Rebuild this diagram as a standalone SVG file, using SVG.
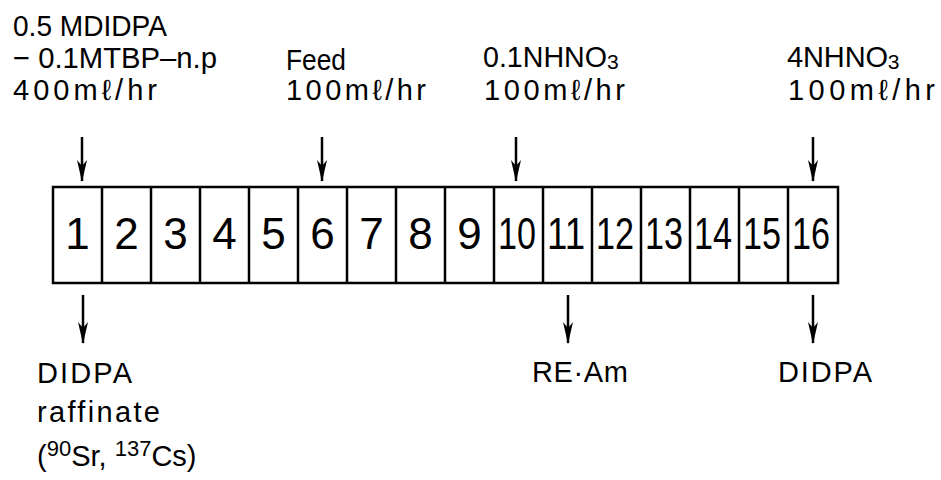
<svg xmlns="http://www.w3.org/2000/svg" width="941" height="480" viewBox="0 0 941 480">
<style>
  .lbl { font-family: "Liberation Sans", Arial, sans-serif; font-size: 29px; fill: #000; }
  .num { font-family: "Liberation Sans", Arial, sans-serif; font-size: 44px; fill: #000; text-anchor: middle; }
  .cell { fill: #fff; stroke: #000; stroke-width: 2.5; }
  .arr { stroke: #000; stroke-width: 2.5; fill: none; marker-end: url(#ah); }
</style>
<defs>
  <marker id="ah" viewBox="0 0 22 10" refX="21" refY="5" markerWidth="22" markerHeight="10" markerUnits="userSpaceOnUse" orient="auto">
    <path d="M0,0 L22,5 L0,10 L6,5 Z" fill="#000"/>
  </marker>
</defs>
<rect width="941" height="480" fill="#fff"/>

<g id="inputs">
  <g id="in-solvent">
    <text class="lbl" x="13" y="36" textLength="154" lengthAdjust="spacingAndGlyphs">0.5 MDIDPA</text>
    <text class="lbl" x="13" y="68" textLength="204" lengthAdjust="spacingAndGlyphs">− 0.1MTBP–n.p</text>
    <text class="lbl" x="13" y="100" textLength="144" lengthAdjust="spacing">400mℓ/hr</text>
  </g>
  <g id="in-feed">
    <text class="lbl" x="286" y="70" textLength="60" lengthAdjust="spacingAndGlyphs">Feed</text>
    <text class="lbl" x="286" y="100" textLength="140" lengthAdjust="spacing">100mℓ/hr</text>
  </g>
  <g id="in-scrub">
    <text class="lbl" x="483" y="67"><tspan textLength="124" lengthAdjust="spacingAndGlyphs">0.1NHNO</tspan><tspan font-size="21" dy="2">3</tspan></text>
    <text class="lbl" x="484" y="100" textLength="141" lengthAdjust="spacing">100mℓ/hr</text>
  </g>
  <g id="in-strip">
    <text class="lbl" x="787" y="67"><tspan textLength="101" lengthAdjust="spacing">4NHNO</tspan><tspan font-size="21" dy="2">3</tspan></text>
    <text class="lbl" x="788" y="100" textLength="147" lengthAdjust="spacing">100mℓ/hr</text>
  </g>
</g>

<g id="bank">
  <rect class="cell" x="53" y="187" width="785" height="96"/>
  <g stroke="#000" stroke-width="2.5">
    <line x1="102" y1="187" x2="102" y2="283"/>
    <line x1="151" y1="187" x2="151" y2="283"/>
    <line x1="200" y1="187" x2="200" y2="283"/>
    <line x1="249" y1="187" x2="249" y2="283"/>
    <line x1="298" y1="187" x2="298" y2="283"/>
    <line x1="347" y1="187" x2="347" y2="283"/>
    <line x1="396" y1="187" x2="396" y2="283"/>
    <line x1="445" y1="187" x2="445" y2="283"/>
    <line x1="494" y1="187" x2="494" y2="283"/>
    <line x1="543" y1="187" x2="543" y2="283"/>
    <line x1="592" y1="187" x2="592" y2="283"/>
    <line x1="641" y1="187" x2="641" y2="283"/>
    <line x1="690" y1="187" x2="690" y2="283"/>
    <line x1="739" y1="187" x2="739" y2="283"/>
    <line x1="788" y1="187" x2="788" y2="283"/>
  </g>
  <text class="num" x="77.5" y="249">1</text>
  <text class="num" x="126.5" y="249">2</text>
  <text class="num" x="175.5" y="249">3</text>
  <text class="num" x="224.5" y="249">4</text>
  <text class="num" x="273.5" y="249">5</text>
  <text class="num" x="322.5" y="249">6</text>
  <text class="num" x="371.5" y="249">7</text>
  <text class="num" x="420.5" y="249">8</text>
  <text class="num" x="469.5" y="249">9</text>
  <text class="num" x="517" y="249" textLength="38" lengthAdjust="spacingAndGlyphs">10</text>
  <text class="num" x="566" y="249" textLength="38" lengthAdjust="spacingAndGlyphs">11</text>
  <text class="num" x="615" y="249" textLength="38" lengthAdjust="spacingAndGlyphs">12</text>
  <text class="num" x="664" y="249" textLength="38" lengthAdjust="spacingAndGlyphs">13</text>
  <text class="num" x="713" y="249" textLength="38" lengthAdjust="spacingAndGlyphs">14</text>
  <text class="num" x="762" y="249" textLength="38" lengthAdjust="spacingAndGlyphs">15</text>
  <text class="num" x="811" y="249" textLength="38" lengthAdjust="spacingAndGlyphs">16</text>
</g>

<g id="outputs">
  <g id="out-raffinate">
    <text class="lbl" x="37" y="383" textLength="95" lengthAdjust="spacing">DIDPA</text>
    <text class="lbl" x="37" y="422" textLength="123" lengthAdjust="spacing">raffinate</text>
    <text class="lbl" x="37" y="466">(<tspan font-size="22" dy="-10">90</tspan><tspan dy="10">Sr,  </tspan><tspan font-size="22" dy="-10">137</tspan><tspan dy="10">Cs)</tspan></text>
  </g>
  <g id="out-ream">
    <text class="lbl" x="532" y="382" textLength="96" lengthAdjust="spacing">RE·Am</text>
  </g>
  <g id="out-didpa">
    <text class="lbl" x="778" y="382" textLength="94" lengthAdjust="spacing">DIDPA</text>
  </g>
</g>

<g id="connectors">
  <line class="arr" x1="82" y1="137" x2="82" y2="181"/>
  <line class="arr" x1="322" y1="137" x2="322" y2="181"/>
  <line class="arr" x1="516" y1="137" x2="516" y2="181"/>
  <line class="arr" x1="813" y1="137" x2="813" y2="181"/>
  <line class="arr" x1="83" y1="295" x2="83" y2="343"/>
  <line class="arr" x1="568" y1="295" x2="568" y2="343"/>
  <line class="arr" x1="813" y1="295" x2="813" y2="343"/>
</g>
</svg>
